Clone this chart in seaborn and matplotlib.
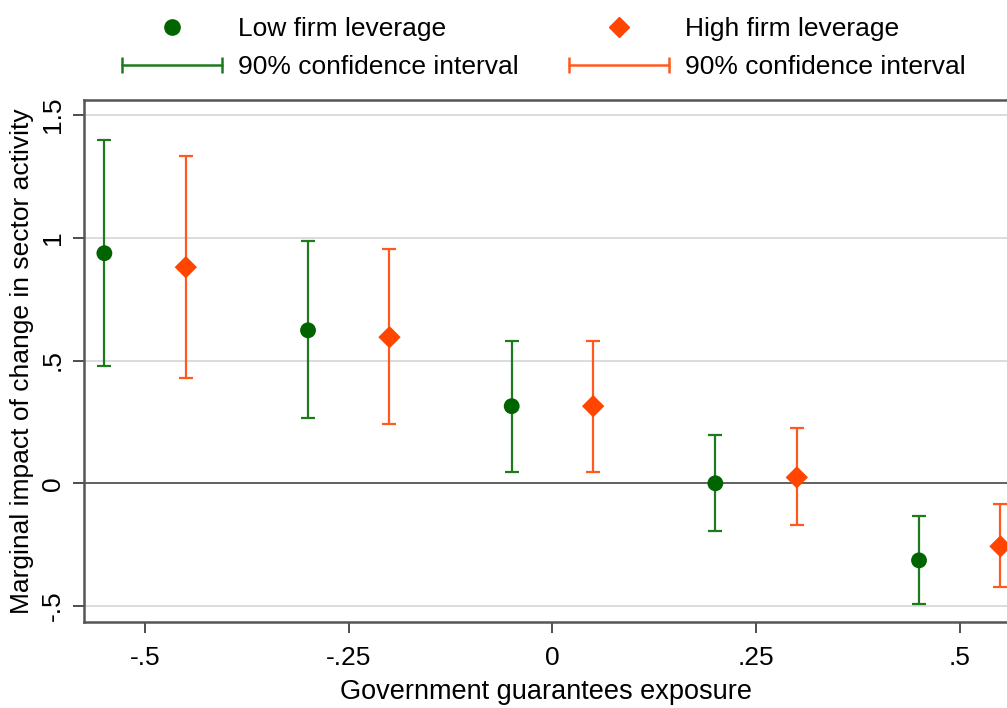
import numpy as np
import pandas as pd
import matplotlib
matplotlib.use("Agg")
import matplotlib.pyplot as plt
import seaborn as sns
from matplotlib.lines import Line2D
from matplotlib.legend_handler import HandlerLine2D

# Datos
x_low = [-0.55, -0.30, -0.05, 0.20, 0.45]
y_low = [0.937, 0.623, 0.314, 0.000, -0.314]
lo_low = [0.477, 0.265, 0.045, -0.196, -0.493]
hi_low = [1.397, 0.986, 0.578, 0.196, -0.134]

x_high = [-0.45, -0.20, 0.05, 0.30, 0.55]
y_high = [0.880, 0.595, 0.314, 0.024, -0.257]
lo_high = [0.428, 0.240, 0.045, -0.171, -0.424]
hi_high = [1.332, 0.953, 0.578, 0.224, -0.086]

xticks = [-0.5, -0.25, 0, 0.25, 0.5]
xtick_labels = ['-.5', '-.25', '0', '.25', '.5']
yticks = [-0.5, 0, 0.5, 1, 1.5]
ytick_labels = ['-.5', '0', '.5', '1', '1.5']

verde_m = '#006400'
verde_l = '#1f7a1f'
naranja_m = '#ff4500'
naranja_l = '#ff5a1e'

sns.set_theme(style="white")
plt.rcParams['font.family'] = ['Liberation Sans', 'DejaVu Sans']
plt.rcParams['text.color'] = 'black'
plt.rcParams['axes.labelcolor'] = 'black'
plt.rcParams['xtick.color'] = 'black'
plt.rcParams['ytick.color'] = 'black'

df = pd.DataFrame({
    'x': x_low + x_high,
    'y': y_low + y_high,
    'grupo': ['Low firm leverage'] * 5 + ['High firm leverage'] * 5,
})

fig = plt.figure(figsize=(10.07, 7.08), dpi=100)
ax = fig.add_axes([84 / 1007, 1 - 622 / 708, 1 - 84 / 1007, (622 - 100) / 708])

# Lineas de grilla y cero
for yv in yticks:
    if yv == 0:
        ax.axhline(0, color='#606060', lw=1.4, zorder=1)
    else:
        ax.axhline(yv, color='#dcdcdc', lw=1.4, zorder=0)

# Intervalos de confianza
y_low_a = np.array(y_low)
y_high_a = np.array(y_high)
ax.errorbar(x_low, y_low, yerr=[y_low_a - np.array(lo_low), np.array(hi_low) - y_low_a],
            fmt='none', ecolor=verde_l, elinewidth=1.6, capsize=5, capthick=1.6, zorder=2)
ax.errorbar(x_high, y_high, yerr=[y_high_a - np.array(lo_high), np.array(hi_high) - y_high_a],
            fmt='none', ecolor=naranja_l, elinewidth=1.6, capsize=5, capthick=1.6, zorder=2)

# Puntos
sns.scatterplot(data=df, x='x', y='y', hue='grupo', style='grupo',
                palette={'Low firm leverage': verde_m, 'High firm leverage': naranja_m},
                markers={'Low firm leverage': 'o', 'High firm leverage': 'D'},
                s=130, linewidth=0, legend=False, zorder=3, ax=ax)

ax.set_xlim(-0.575, 0.558)
ax.set_ylim(-0.565, 1.561)
ax.set_xticks(xticks)
ax.set_xticklabels(xtick_labels, fontsize=19)
ax.set_yticks(yticks)
ax.set_yticklabels(ytick_labels, fontsize=19, rotation=90, va='center')
ax.tick_params(axis='both', direction='out', length=8, width=1.3, color='#404040',
               bottom=True, left=True)
ax.tick_params(axis='x', pad=9)
ax.tick_params(axis='y', pad=6)
ax.set_xlabel('Government guarantees exposure', fontsize=19.5, labelpad=7)
ax.set_ylabel('Marginal impact of change in sector activity', fontsize=19, labelpad=5)

for lado in ['left', 'bottom', 'top']:
    ax.spines[lado].set_color('#555555')
    ax.spines[lado].set_linewidth(1.8)
ax.spines['right'].set_visible(False)

# Leyenda
h_low = Line2D([], [], color=verde_m, marker='o', ls='none', markersize=11)
h_high = Line2D([], [], color=naranja_m, marker='D', ls='none', markersize=10)
ci_low = Line2D([], [], color=verde_l, lw=1.8, marker='|', markersize=12, markeredgewidth=1.8)
ci_high = Line2D([], [], color=naranja_l, lw=1.8, marker='|', markersize=12, markeredgewidth=1.8)
leg = fig.legend([h_low, ci_low, h_high, ci_high],
                 ['Low firm leverage', '90% confidence interval',
                  'High firm leverage', '90% confidence interval'],
                 ncol=2, loc='center', bbox_to_anchor=(544 / 1007, 1 - 48 / 708),
                 frameon=False, fontsize=19, handlelength=3.8, handletextpad=0.6,
                 columnspacing=1.9, labelspacing=0.55,
                 handler_map={ci_low: HandlerLine2D(numpoints=2, marker_pad=0.0),
                              ci_high: HandlerLine2D(numpoints=2, marker_pad=0.0)})

fig.savefig('out.png', dpi=100, facecolor='white')
